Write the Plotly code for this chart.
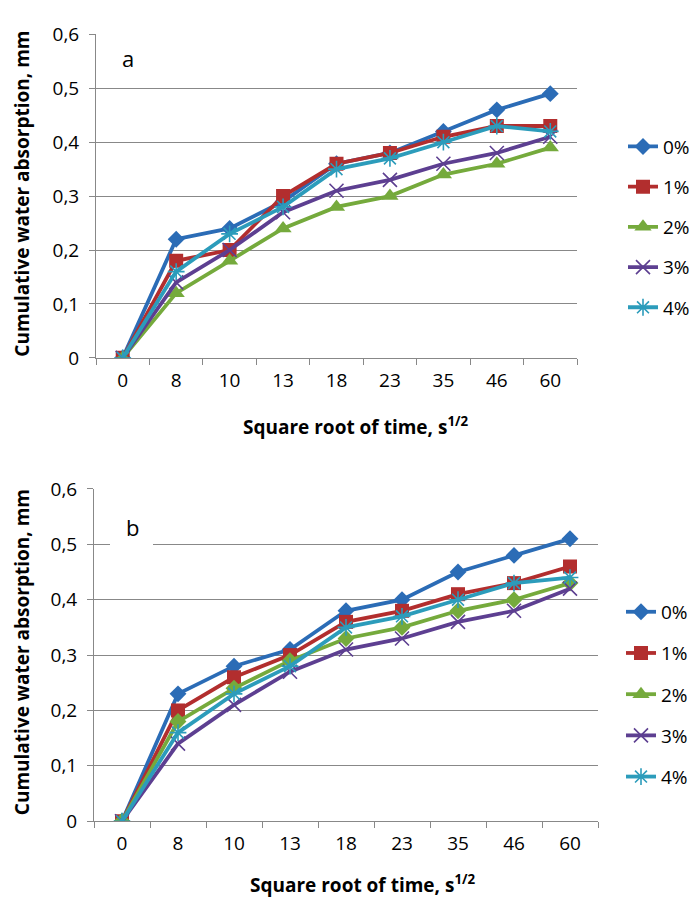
import plotly.graph_objects as go

# Square-root-of-time categories shared by both panels
time_labels = ["0", "8", "10", "13", "18", "23", "35", "46", "60"]
series_names = ["0%", "1%", "2%", "3%", "4%"]

# Panel a: cumulative water absorption (mm)
a_0 = [0, 0.22, 0.24, 0.29, 0.36, 0.38, 0.42, 0.46, 0.49]
a_1 = [0, 0.18, 0.20, 0.30, 0.36, 0.38, 0.41, 0.43, 0.43]
a_2 = [0, 0.12, 0.18, 0.24, 0.28, 0.30, 0.34, 0.36, 0.39]
a_3 = [0, 0.14, 0.20, 0.27, 0.31, 0.33, 0.36, 0.38, 0.41]
a_4 = [0, 0.16, 0.23, 0.28, 0.35, 0.37, 0.40, 0.43, 0.42]

# Panel b: cumulative water absorption (mm)
b_0 = [0, 0.23, 0.28, 0.31, 0.38, 0.40, 0.45, 0.48, 0.51]
b_1 = [0, 0.20, 0.26, 0.30, 0.36, 0.38, 0.41, 0.43, 0.46]
b_2 = [0, 0.18, 0.24, 0.29, 0.33, 0.35, 0.38, 0.40, 0.43]
b_3 = [0, 0.14, 0.21, 0.27, 0.31, 0.33, 0.36, 0.38, 0.42]
b_4 = [0, 0.16, 0.23, 0.28, 0.35, 0.37, 0.40, 0.43, 0.44]

y_tickvals = [0, 0.1, 0.2, 0.3, 0.4, 0.5, 0.6]
y_ticktext = ["0", "0,1", "0,2", "0,3", "0,4", "0,5", "0,6"]

W, H = 695, 909
FONT = "Open Sans"
GRID = "#888888"

colors = ["#2b6cb6", "#b22e2e", "#75aa3c", "#5d3f91", "#2c9cbb"]
symbols_a = ["diamond", "square", "triangle-up", "x-thin-open", "asterisk-open"]
symbols_b_plot = ["diamond", "square", "diamond", "x-thin-open", "asterisk-open"]
symbols_legend = symbols_a
sizes = {"diamond": 13, "square": 14, "triangle-up": 15,
         "x-thin-open": 14, "asterisk-open": 14}


def px_x(v):
    return v / W


def px_y(v):
    return 1 - v / H


fig = go.Figure()


def add_panel(data, xa, ya, legend, plot_symbols):
    for i, (name, ys) in enumerate(zip(series_names, data)):
        sym = plot_symbols[i]
        open_sym = sym.endswith("open")
        same_legend = plot_symbols[i] == symbols_legend[i]
        fig.add_trace(go.Scatter(
            x=time_labels, y=ys, name=name, mode="lines+markers",
            xaxis=xa, yaxis=ya, legend=legend, legendgroup=legend + name,
            showlegend=same_legend,
            line=dict(color=colors[i], width=3.8),
            marker=dict(symbol=sym, size=sizes[sym], color=colors[i],
                        line=dict(color=colors[i], width=1.6 if open_sym else 0)),
        ))
        if not same_legend:
            lsym = symbols_legend[i]
            fig.add_trace(go.Scatter(
                x=[None], y=[None], name=name, mode="lines+markers",
                xaxis=xa, yaxis=ya, legend=legend, legendgroup=legend + name,
                line=dict(color=colors[i], width=3.8),
                marker=dict(symbol=lsym, size=sizes[lsym], color=colors[i],
                            line=dict(width=0)),
            ))


add_panel([a_0, a_1, a_2, a_3, a_4], "x", "y", "legend", symbols_a)
add_panel([b_0, b_1, b_2, b_3, b_4], "x2", "y2", "legend2", symbols_b_plot)

xaxis_style = dict(
    type="category", range=[-0.5, 8.5], showline=True, linecolor=GRID,
    linewidth=1, ticks="outside", tickson="boundaries", ticklen=6,
    tickcolor=GRID, showgrid=False, zeroline=False, ticklabelstandoff=5,
    tickfont=dict(family=FONT, size=19, color="black"), fixedrange=True,
)
yaxis_style = dict(
    range=[0, 0.6], tickvals=y_tickvals, ticktext=y_ticktext,
    showline=True, linecolor=GRID, linewidth=1, ticks="outside", ticklen=6,
    tickcolor=GRID, showgrid=True, gridcolor=GRID, gridwidth=1,
    zeroline=False, ticklabelstandoff=6,
    tickfont=dict(family=FONT, size=19, color="black"), fixedrange=True,
)

legend_style = dict(
    font=dict(family=FONT, size=19, color="black"), bgcolor="rgba(0,0,0,0)",
    itemclick=False, itemdoubleclick=False,
    xanchor="left", yanchor="top", traceorder="grouped",
)

fig.update_layout(
    width=W, height=H, margin=dict(l=0, r=0, t=0, b=0),
    paper_bgcolor="white", plot_bgcolor="white",
    font=dict(family=FONT, color="black"),
    xaxis=dict(domain=[px_x(96), px_x(577)], anchor="y", **xaxis_style),
    yaxis=dict(domain=[px_y(355), px_y(22)], anchor="x", **yaxis_style),
    xaxis2=dict(domain=[px_x(94), px_x(598)], anchor="y2", **xaxis_style),
    yaxis2=dict(domain=[px_y(832), px_y(490)], anchor="x2", **yaxis_style),
    legend=dict(x=px_x(623), y=px_y(118), tracegroupgap=12.5, **legend_style),
    legend2=dict(x=px_x(621), y=px_y(597), tracegroupgap=13.5, **legend_style),
)

# White patch behind the panel label "b"
fig.add_shape(type="rect", xref="paper", yref="paper",
              x0=px_x(110), x1=px_x(153), y0=px_y(556), y1=px_y(512),
              fillcolor="white", line=dict(width=0), layer="above")

title_font = dict(family=FONT, size=19, color="black")
panel_font = dict(family=FONT, size=22, color="black")
ytitle = "<b>Cumulative water absorption, mm</b>"
xtitle = "<b>Square root of time, s<sup>1/2</sup></b>"

annotations = [
    dict(text="a", x=px_x(128), y=px_y(46), font=panel_font),
    dict(text="b", x=px_x(132), y=px_y(529), font=panel_font),
    dict(text=ytitle, x=px_x(22), y=px_y(186), textangle=-90, font=title_font),
    dict(text=ytitle, x=px_x(22), y=px_y(658), textangle=-90, font=title_font),
    dict(text=xtitle, x=px_x(355), y=px_y(425), font=title_font),
    dict(text=xtitle, x=px_x(362), y=px_y(897), font=title_font),
]
for ann in annotations:
    fig.add_annotation(xref="paper", yref="paper", showarrow=False,
                       xanchor="center", yanchor="middle", **ann)

fig.write_html("out.html")
